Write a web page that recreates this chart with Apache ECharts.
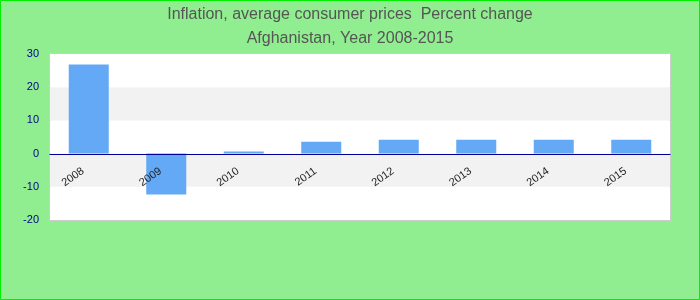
<!DOCTYPE html>
<html><head><meta charset="utf-8">
<script src="https://cdn.jsdelivr.net/npm/echarts@6/dist/echarts.min.js"></script>
<style>html,body{margin:0;padding:0;}#c{width:700px;height:300px;}</style>
</head><body><div id="c"></div>
<script>
const categories = ['2008','2009','2010','2011','2012','2013','2014','2015'];
const values = [26.8, -12.3, 0.6, 3.6, 4.2, 4.2, 4.2, 4.2];
const titleLines = ['Inflation, average consumer prices  Percent change', 'Afghanistan, Year 2008-2015'];

const chart = echarts.init(document.getElementById('c'));
chart.setOption({
  backgroundColor: '#90ee90',
  title: {
    text: titleLines.join('\n'),
    left: 'center', top: -2,
    textStyle: {color: '#555', fontSize: 16, fontWeight: 'normal', fontFamily: 'Liberation Sans, Arial', lineHeight: 24}
  },
  graphic: [{type: 'rect', shape: {x: 0.5, y: 0.5, width: 699, height: 299}, style: {fill: 'none', stroke: '#00ee00', lineWidth: 1}, z: 100}],
  grid: {left: 50, right: 30, top: 54, bottom: 80, show: true, backgroundColor: '#fff', borderColor: '#ccc', borderWidth: 2},
  xAxis: {
    type: 'category', data: categories,
    offset: -66, z: 10,
    axisLine: {onZero: false, lineStyle: {color: '#000099', width: 1.2}},
    axisTick: {show: false},
    axisLabel: {rotate: 35, color: '#222', fontSize: 11, fontFamily: 'Liberation Sans, Arial', margin: 12, padding: [0, 7, 0, 0]}
  },
  yAxis: {
    type: 'value', min: -20, max: 30, interval: 10,
    axisLine: {show: false}, axisTick: {show: false},
    splitLine: {show: false},
    splitArea: {show: true, areaStyle: {color: ['#ffffff', '#f2f2f2']}},
    axisLabel: {color: '#00008b', fontSize: 11, fontFamily: 'Liberation Sans, Arial', margin: 11}
  },
  series: [{
    type: 'bar', data: values, barWidth: 40,
    itemStyle: {color: '#63a9f5'}, z: 1
  }]
});
</script></body></html>
